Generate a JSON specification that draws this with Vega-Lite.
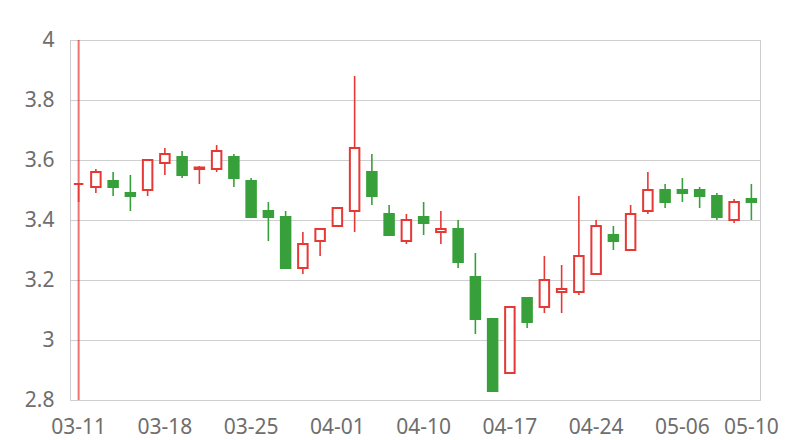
{
  "$schema": "https://vega.github.io/schema/vega-lite/v6.json",
  "width": 690,
  "height": 360,
  "autosize": {"type": "none"},
  "padding": {"left": 70, "top": 40, "right": 40, "bottom": 40},
  "background": "white",
  "config": {
    "view": {"stroke": "#cccccc", "strokeWidth": 1},
    "font": "Noto Sans",
    "axis": {"labelFont": "Noto Sans", "labelFontSize": 21, "labelColor": "#6e6e6e", "title": null}
  },
  "data": {
    "values": [
      {"date": "03-11", "open": 3.52, "close": 3.52, "low": 3.46, "high": 3.52},
      {"date": "03-12", "open": 3.51, "close": 3.56, "low": 3.49, "high": 3.57},
      {"date": "03-13", "open": 3.53, "close": 3.51, "low": 3.48, "high": 3.56},
      {"date": "03-14", "open": 3.49, "close": 3.48, "low": 3.43, "high": 3.55},
      {"date": "03-15", "open": 3.50, "close": 3.60, "low": 3.48, "high": 3.60},
      {"date": "03-18", "open": 3.59, "close": 3.62, "low": 3.55, "high": 3.64},
      {"date": "03-19", "open": 3.61, "close": 3.55, "low": 3.54, "high": 3.63},
      {"date": "03-20", "open": 3.57, "close": 3.575, "low": 3.52, "high": 3.58},
      {"date": "03-21", "open": 3.57, "close": 3.63, "low": 3.56, "high": 3.65},
      {"date": "03-22", "open": 3.61, "close": 3.54, "low": 3.51, "high": 3.62},
      {"date": "03-25", "open": 3.53, "close": 3.41, "low": 3.41, "high": 3.54},
      {"date": "03-26", "open": 3.43, "close": 3.41, "low": 3.33, "high": 3.46},
      {"date": "03-27", "open": 3.41, "close": 3.24, "low": 3.24, "high": 3.43},
      {"date": "03-28", "open": 3.24, "close": 3.32, "low": 3.22, "high": 3.36},
      {"date": "03-29", "open": 3.33, "close": 3.37, "low": 3.28, "high": 3.37},
      {"date": "04-01", "open": 3.38, "close": 3.44, "low": 3.38, "high": 3.44},
      {"date": "04-02", "open": 3.43, "close": 3.64, "low": 3.36, "high": 3.88},
      {"date": "04-03", "open": 3.56, "close": 3.48, "low": 3.45, "high": 3.62},
      {"date": "04-08", "open": 3.42, "close": 3.35, "low": 3.35, "high": 3.45},
      {"date": "04-09", "open": 3.33, "close": 3.40, "low": 3.32, "high": 3.42},
      {"date": "04-10", "open": 3.41, "close": 3.39, "low": 3.35, "high": 3.46},
      {"date": "04-11", "open": 3.36, "close": 3.37, "low": 3.32, "high": 3.43},
      {"date": "04-12", "open": 3.37, "close": 3.26, "low": 3.24, "high": 3.40},
      {"date": "04-15", "open": 3.21, "close": 3.07, "low": 3.02, "high": 3.29},
      {"date": "04-16", "open": 3.07, "close": 2.83, "low": 2.83, "high": 3.07},
      {"date": "04-17", "open": 2.89, "close": 3.11, "low": 2.89, "high": 3.11},
      {"date": "04-18", "open": 3.14, "close": 3.06, "low": 3.04, "high": 3.14},
      {"date": "04-19", "open": 3.11, "close": 3.20, "low": 3.09, "high": 3.28},
      {"date": "04-22", "open": 3.16, "close": 3.17, "low": 3.09, "high": 3.25},
      {"date": "04-23", "open": 3.16, "close": 3.28, "low": 3.15, "high": 3.48},
      {"date": "04-24", "open": 3.22, "close": 3.38, "low": 3.22, "high": 3.40},
      {"date": "04-25", "open": 3.35, "close": 3.33, "low": 3.30, "high": 3.38},
      {"date": "04-26", "open": 3.30, "close": 3.42, "low": 3.30, "high": 3.45},
      {"date": "04-29", "open": 3.43, "close": 3.50, "low": 3.42, "high": 3.56},
      {"date": "04-30", "open": 3.50, "close": 3.46, "low": 3.44, "high": 3.52},
      {"date": "05-06", "open": 3.50, "close": 3.49, "low": 3.46, "high": 3.54},
      {"date": "05-07", "open": 3.50, "close": 3.48, "low": 3.44, "high": 3.51},
      {"date": "05-08", "open": 3.48, "close": 3.41, "low": 3.40, "high": 3.49},
      {"date": "05-09", "open": 3.40, "close": 3.46, "low": 3.39, "high": 3.47},
      {"date": "05-10", "open": 3.47, "close": 3.46, "low": 3.40, "high": 3.52}
    ]
  },
  "encoding": {
    "x": {
      "field": "date",
      "type": "ordinal",
      "sort": null,
      "scale": {"paddingInner": 0, "paddingOuter": 0},
      "axis": {
        "values": ["03-11", "03-18", "03-25", "04-01", "04-10", "04-17", "04-24", "05-06", "05-10"],
        "labelAngle": 0,
        "domain": false,
        "ticks": false,
        "labelPadding": 16,
        "grid": false
      }
    }
  },
  "layer": [
    {
      "data": {"values": [{"date": "03-11", "from": 2.8, "to": 4.0}]},
      "mark": {"type": "rule", "color": "#e53935", "opacity": 0.7, "strokeWidth": 2},
      "encoding": {
        "y": {"field": "from", "type": "quantitative", "scale": {"domain": [2.8, 4.0], "nice": false, "zero": false}},
        "y2": {"field": "to"}
      }
    },
    {
      "mark": {"type": "rule", "strokeWidth": 1.6},
      "encoding": {
        "y": {
          "field": "low",
          "type": "quantitative",
          "scale": {"domain": [2.8, 4.0], "nice": false, "zero": false},
          "axis": {
            "values": [2.8, 3.0, 3.2, 3.4, 3.6, 3.8, 4.0],
            "format": "~g",
            "domain": false,
            "ticks": false,
            "labelPadding": 16,
            "gridColor": "#cfcfcf",
            "gridWidth": 1
          }
        },
        "y2": {"field": "high"},
        "color": {
          "condition": {"test": "datum.close >= datum.open", "value": "#e53935"},
          "value": "#38a03a"
        }
      }
    },
    {
      "mark": {"type": "bar", "width": 9.5, "strokeWidth": 2},
      "encoding": {
        "y": {"field": "open", "type": "quantitative"},
        "y2": {"field": "close"},
        "fill": {
          "condition": {"test": "datum.close >= datum.open", "value": "white"},
          "value": "#38a03a"
        },
        "stroke": {
          "condition": {"test": "datum.close >= datum.open", "value": "#e53935"},
          "value": "#38a03a"
        }
      }
    }
  ]
}
